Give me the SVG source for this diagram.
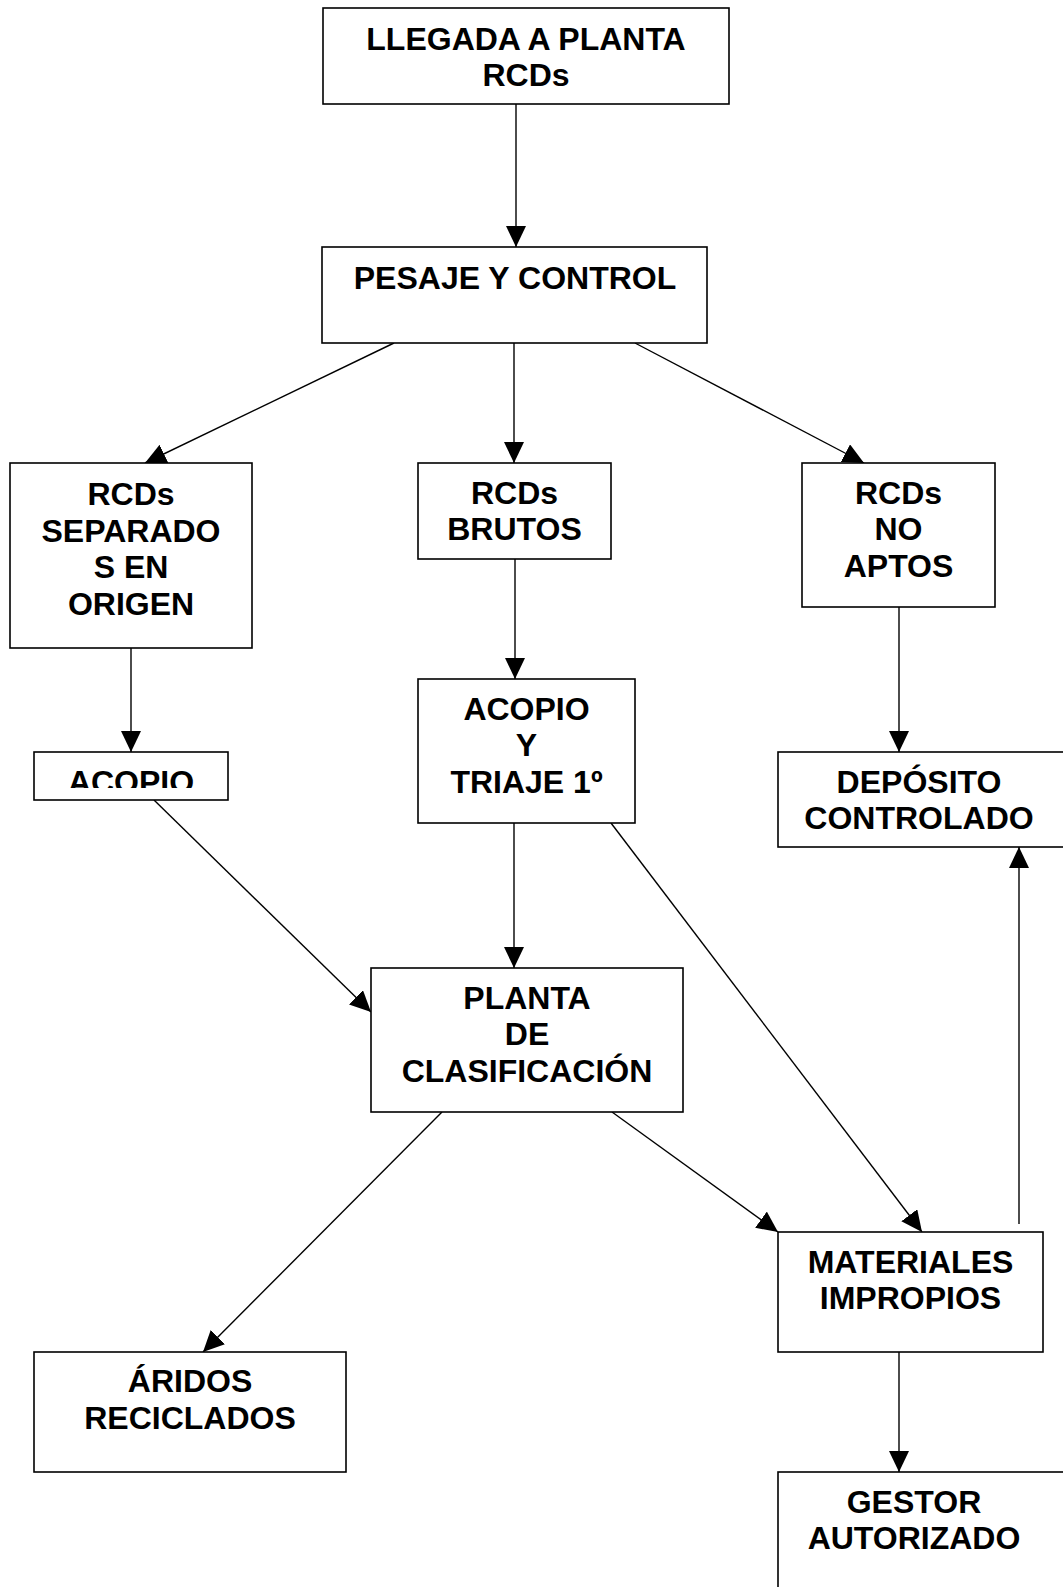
<svg xmlns="http://www.w3.org/2000/svg" width="1063" height="1587" viewBox="0 0 1063 1587">
<style>
.box{fill:#fff;stroke:#000;stroke-width:1.6}
.t{font-family:"Liberation Sans",Arial,sans-serif;font-weight:bold;font-size:32px;text-anchor:middle;fill:#000}
.c{stroke:#000;stroke-width:1.4;fill:none;marker-end:url(#ah)}
</style>
<defs>
<marker id="ah" markerUnits="userSpaceOnUse" markerWidth="22" markerHeight="22" refX="21" refY="10" orient="auto">
<path d="M0,0 L21,10 L0,20 z" fill="#000"/>
</marker>
<clipPath id="clipAcopio"><rect x="34" y="752" width="194" height="36"/></clipPath>
</defs>
<rect width="1063" height="1587" fill="#fff"/>
<g id="connectors">
<line class="c" x1="516" y1="104" x2="516" y2="247"/>
<line class="c" x1="394" y1="343" x2="145" y2="463"/>
<line class="c" x1="514" y1="343" x2="514" y2="463"/>
<line class="c" x1="635" y1="343" x2="864" y2="463"/>
<line class="c" x1="131" y1="648" x2="131" y2="752"/>
<line class="c" x1="515" y1="559" x2="515" y2="679"/>
<line class="c" x1="899" y1="607" x2="899" y2="752"/>
<line class="c" x1="154" y1="800" x2="371" y2="1012"/>
<line class="c" x1="514" y1="823" x2="514" y2="968"/>
<line class="c" x1="611" y1="823" x2="922" y2="1232"/>
<line class="c" x1="442" y1="1112" x2="203" y2="1352"/>
<line class="c" x1="612" y1="1112" x2="778" y2="1232"/>
<line class="c" x1="1019" y1="1224" x2="1019" y2="847"/>
<line class="c" x1="899" y1="1352" x2="899" y2="1472"/>
</g>
<g id="llegada">
<rect class="box" x="323" y="8" width="406" height="96"/>
<text class="t" x="526" y="49.5">LLEGADA A PLANTA</text>
<text class="t" x="526" y="86">RCDs</text>
</g>
<g id="pesaje">
<rect class="box" x="322" y="247" width="385" height="96"/>
<text class="t" x="515" y="289">PESAJE Y CONTROL</text>
</g>
<g id="separados">
<rect class="box" x="10" y="463" width="242" height="185"/>
<text class="t" x="131" y="505">RCDs</text>
<text class="t" x="131" y="541.7">SEPARADO</text>
<text class="t" x="131" y="578.4">S EN</text>
<text class="t" x="131" y="615">ORIGEN</text>
</g>
<g id="brutos">
<rect class="box" x="418" y="463" width="193" height="96"/>
<text class="t" x="514.5" y="503.5">RCDs</text>
<text class="t" x="514.5" y="540.2">BRUTOS</text>
</g>
<g id="noaptos">
<rect class="box" x="802" y="463" width="193" height="144"/>
<text class="t" x="898.5" y="503.5">RCDs</text>
<text class="t" x="898.5" y="540.2">NO</text>
<text class="t" x="898.5" y="576.9">APTOS</text>
</g>
<g id="acopio">
<rect class="box" x="34" y="752" width="194" height="48"/>
<text class="t" x="131" y="793" clip-path="url(#clipAcopio)">ACOPIO</text>
</g>
<g id="triaje">
<rect class="box" x="418" y="679" width="217" height="144"/>
<text class="t" x="526.5" y="719.5">ACOPIO</text>
<text class="t" x="526.5" y="756.2">Y</text>
<text class="t" x="526.5" y="792.9">TRIAJE 1º</text>
</g>
<g id="deposito">
<rect class="box" x="778" y="752" width="290" height="95"/>
<text class="t" x="919" y="792.5">DEPÓSITO</text>
<text class="t" x="919" y="829.2">CONTROLADO</text>
</g>
<g id="planta">
<rect class="box" x="371" y="968" width="312" height="144"/>
<text class="t" x="527" y="1008.5">PLANTA</text>
<text class="t" x="527" y="1045.2">DE</text>
<text class="t" x="527" y="1081.9">CLASIFICACIÓN</text>
</g>
<g id="materiales">
<rect class="box" x="778" y="1232" width="265" height="120"/>
<text class="t" x="910.5" y="1272.5">MATERIALES</text>
<text class="t" x="910.5" y="1309.2">IMPROPIOS</text>
</g>
<g id="aridos">
<rect class="box" x="34" y="1352" width="312" height="120"/>
<text class="t" x="190" y="1392">ÁRIDOS</text>
<text class="t" x="190" y="1428.7">RECICLADOS</text>
</g>
<g id="gestor">
<rect class="box" x="778" y="1472" width="290" height="130"/>
<text class="t" x="914" y="1512.5">GESTOR</text>
<text class="t" x="914" y="1549.2">AUTORIZADO</text>
</g>
</svg>
